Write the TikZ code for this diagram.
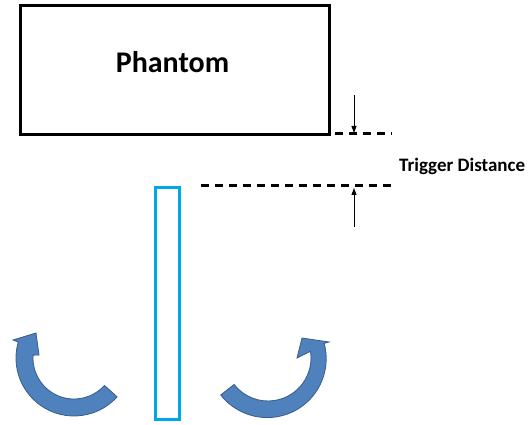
\documentclass[tikz,border=0pt]{standalone}
\usepackage{fontspec}
\setmainfont{Carlito}
\usetikzlibrary{arrows.meta}
\definecolor{arrowfill}{RGB}{79,129,189}
\definecolor{arrowedge}{RGB}{56,93,138}
\definecolor{probeblue}{RGB}{0,168,234}
\tikzset{
  boxline/.style={draw=black, line width=3pt},
  dashline/.style={draw=black, line width=3pt, dash pattern=on 8pt off 6pt},
  measarrow/.style={draw=black, line width=1pt, -{Triangle[length=7pt,width=5pt]}},
  rotarrow/.style={fill=arrowfill, draw=arrowedge, line width=0.8pt},
  label/.style={font=\bfseries, inner sep=0pt, anchor=west}
}
\begin{document}
\begin{tikzpicture}[x=1pt,y=-1pt]
\useasboundingbox (0,0) rectangle (528,425);
% phantom
\node[boxline, minimum width=309pt, minimum height=129pt, inner sep=0pt] (phantom) at (175,70.5) {};
\node[font=\fontsize{30}{32}\selectfont\bfseries] (ptext) at (172.5,62) {Phantom};
% dashed lines
\coordinate (d1a) at (335,134);
\coordinate (d1b) at (392,134);
\coordinate (d2a) at (201,186);
\coordinate (d2b) at (394,186);
\draw[dashline] (d1a) -- (d1b);
\draw[dashline] (d2a) -- (d2b);
% measure arrows
\coordinate (a1s) at (354,95);
\coordinate (a1e) at (354,133);
\coordinate (a2s) at (354,227);
\coordinate (a2e) at (354,188);
\draw[measarrow] (a1s) -- (a1e);
\draw[measarrow] (a2s) -- (a2e);
\node[label, font=\fontsize{19}{21}\selectfont\bfseries] (trig) at (399,166) {Trigger Distance};
% probe
\node[draw=probeblue, line width=3pt, minimum width=24pt, minimum height=232pt, inner sep=0pt] (probe) at (167.5,303.5) {};
% left rotation arrow
\begin{scope}[shift={(74,358)}, yscale=-1]
\path[rotarrow] (-42:58) arc[start angle=-42, end angle=-196, radius=58]
  -- (-61,18) -- (-38,25) -- (-35,3) -- (176:41)
  arc[start angle=176, end angle=318, radius=41] -- cycle;
\end{scope}
% right rotation arrow
\begin{scope}[shift={(268,358)}, yscale=-1, xscale=-1]
\path[rotarrow] (-38:60) arc[start angle=-38, end angle=-195, radius=59]
  -- (-61,16) -- (-34,20) -- (-29,0) -- (171:43)
  arc[start angle=171, end angle=322, radius=43] -- cycle;
\end{scope}
\end{tikzpicture}
\end{document}
